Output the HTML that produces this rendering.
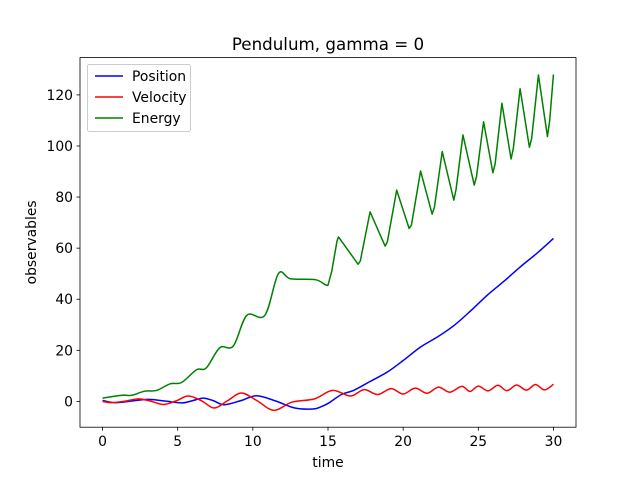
<!DOCTYPE html>
<html><head><meta charset="utf-8"><style>
body{margin:0;background:#fff}
svg{display:block;font-family:"DejaVu Sans","Liberation Sans",sans-serif}
</style></head><body>
<svg width="640" height="480" xmlns="http://www.w3.org/2000/svg">
<rect width="640" height="480" fill="#fff"/>
<g id="plot"></g>
</svg>
<script>
const posT=[0,0.84,2,3.05,4.2,5.26,6,6.7,7.4,8.1,9.2,10.24,11.5,12.8,14,14.5,15,15.9,16.7,17.8,18.95,20,21.16,22.3,23.4,24.5,25.6,26.7,27.8,28.9,30];
const posV=[0.4,-0.5,0.2,0.8,0.1,-0.6,0.3,1.3,0.2,-1.3,0.3,2.2,0.2,-2.6,-3,-2.2,-0.8,2.7,4.3,7.8,11.5,16,21.3,25.3,29.8,35.5,41.6,47,52.7,58,63.8];
const velT=[0,0.6,1.5,2.4,3.2,4.05,4.9,5.7,6.6,7.43,8.3,9.24,10.3,11.4,12.6,14.1,15.3,16.5,17.4,18.3,19.2,20,20.8,21.6,22.35,23.1,23.9,24.45,25.0,25.65,26.3,26.9,27.55,28.2,28.8,29.4,30];
const velV=[0,-0.5,0.1,1.0,0.1,-1.2,0.2,2.1,0.2,-2.6,0.2,3.3,0.2,-3.5,-0.3,1.0,4.3,2.1,4.6,2.7,5.0,2.9,5.2,3.2,5.6,3.6,5.9,3.9,6.0,4.1,6.3,4.2,6.4,4.4,6.6,4.5,6.7];
const enT=[0,1.3,1.95,2.8,3.6,4.5,5.26,6.25,6.9,7.8,8.7,9.6,10.8,11.7,12.5,14.2,15.0,15.25,15.6,15.7,17.0,17.15,17.8,18.8,18.95,19.57,20.4,20.55,21.16,21.93,22.08,22.6,23.37,23.52,23.98,24.73,24.88,25.35,25.97,26.12,26.57,27.18,27.33,27.78,28.4,28.55,29.0,29.6,29.75,30];
const enV=[1.3,2.4,2.4,4.0,4.3,6.9,7.4,12.4,13.1,21,21.7,33.7,33.7,50,48,47.6,45.5,51,62.8,64.4,53.7,55,74.2,60.8,62.5,82.7,67.7,69,90.2,73.3,76,97.8,78.8,83,104.3,84.7,88,109.5,89.5,93,116.7,94.9,99,122.4,99.5,103,127.8,103.7,110,128];
const xTicks=[0,5,10,15,20,25,30];
const yTicks=[0,20,40,60,80,100,120];
const L=80,R=576,T=57.6,B=427.2;
const xmin=-1.5,xmax=31.5,ymin=-10.1,ymax=134.6;
const xs=t=>L+(t-xmin)/(xmax-xmin)*(R-L);
const ys=v=>B-(v-ymin)/(ymax-ymin)*(B-T);
const NS="http://www.w3.org/2000/svg";
const g=document.getElementById('plot');
function mk(tag,attrs,parent){const e=document.createElementNS(NS,tag);for(const k in attrs)e.setAttribute(k,attrs[k]);(parent||g).appendChild(e);return e;}
function pathFor(T_,V_,linearAfter){
  const p=T_.map((t,i)=>[xs(t),ys(V_[i])]);
  let d='M'+p[0][0].toFixed(2)+','+p[0][1].toFixed(2);
  for(let i=0;i<p.length-1;i++){
    if(T_[i]>=linearAfter){d+='L'+p[i+1][0].toFixed(2)+','+p[i+1][1].toFixed(2);continue;}
    const p0=p[Math.max(0,i-1)],p1=p[i],p2=p[i+1],p3=p[Math.min(p.length-1,i+2)];
    const c1=[p1[0]+(p2[0]-p0[0])/6,p1[1]+(p2[1]-p0[1])/6];
    const c2=[p2[0]-(p3[0]-p1[0])/6,p2[1]-(p3[1]-p1[1])/6];
    d+='C'+c1[0].toFixed(2)+','+c1[1].toFixed(2)+' '+c2[0].toFixed(2)+','+c2[1].toFixed(2)+' '+p2[0].toFixed(2)+','+p2[1].toFixed(2);
  }
  return d;
}
let e;
e=mk('path',{d:pathFor(posT,posV,99),fill:'none',stroke:'#0000ff','stroke-width':1.5});


e=mk('path',{d:pathFor(velT,velV,99),fill:'none',stroke:'#ff0000','stroke-width':1.5});


e=mk('path',{d:pathFor(enT,enV,14.9),fill:'none',stroke:'#008000','stroke-width':1.5,'stroke-linejoin':'round'});


e=mk('rect',{x:L,y:T,width:R-L,height:B-T,fill:'none',stroke:'#000','stroke-width':0.8});


xTicks.forEach(t=>{
  const x=xs(t);
  e=mk('line',{x1:x,x2:x,y1:B,y2:B+3.5,stroke:'#000','stroke-width':0.8});
  
  
  e=mk('text',{x:x,y:B+19,'text-anchor':'middle','font-size':13.9});
  e.textContent=t;
  
  
});
yTicks.forEach(v=>{
  const y=ys(v);
  e=mk('line',{x1:L-3.5,x2:L,y1:y,y2:y,stroke:'#000','stroke-width':0.8});
  
  
  e=mk('text',{x:L-7,y:y+5,'text-anchor':'end','font-size':13.9});
  e.textContent=v;
  
  
});
e=mk('text',{x:(L+R)/2,y:467,'text-anchor':'middle','font-size':13.9});
e.textContent='time';


e=mk('text',{x:36,y:(T+B)/2,'text-anchor':'middle','font-size':13.9,transform:'rotate(-90 36 '+((T+B)/2)+')'});
e.textContent='observables';


e=mk('text',{x:(L+R)/2,y:50,'text-anchor':'middle','font-size':16.7});
e.textContent='Pendulum, gamma = 0';


e=mk('rect',{x:87.5,y:64.5,width:103,height:67,rx:2,fill:'#fff','fill-opacity':0.8,stroke:'#ccc','stroke-width':1});


[['Position','#0000ff'],['Velocity','#ff0000'],['Energy','#008000']].forEach((s,i)=>{
  const y=76+i*21;
  e=mk('line',{x1:95,x2:123,y1:y,y2:y,stroke:s[1],'stroke-width':1.5});
  
  
  e=mk('text',{x:132,y:y+5,'font-size':13.9});
  e.textContent=s[0];
  
  
});
</script>
</body></html>
